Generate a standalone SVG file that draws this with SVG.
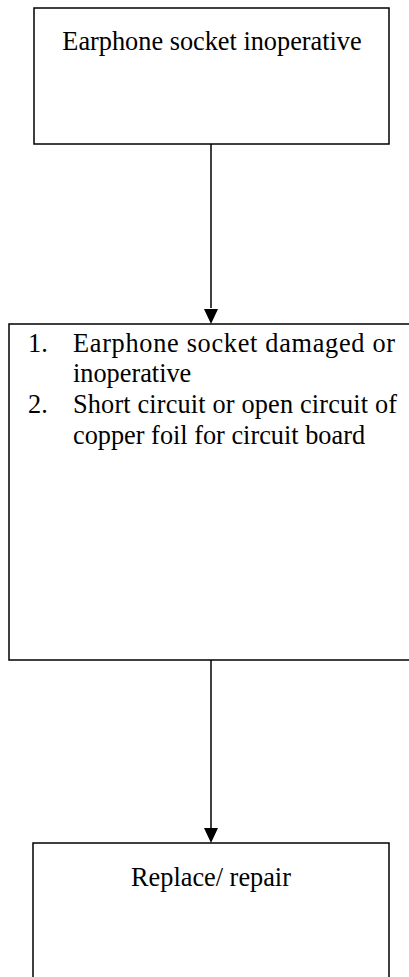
<svg xmlns="http://www.w3.org/2000/svg" width="409" height="977" viewBox="0 0 409 977">
<style>
.box{fill:#fff;stroke:#000;stroke-width:1.5}
.t{font-family:"Liberation Serif","Times New Roman",serif;font-size:26.3px;fill:#000}
.c{text-anchor:middle}
.ln{stroke:#000;stroke-width:1.5;fill:none}
</style>
<defs>
<marker id="ah" markerUnits="userSpaceOnUse" markerWidth="14" markerHeight="15" refX="7" refY="15" orient="auto-start-reverse" viewBox="0 0 14 15">
<path d="M0,0 L14,0 L7,15 Z" fill="#000"/>
</marker>
</defs>
<rect width="409" height="977" fill="#fff"/>
<g id="connectors">
<line class="ln" x1="211" y1="144" x2="211" y2="308" />
<path d="M204,309 L218,309 L211,324 Z" fill="#000"/>
<line class="ln" x1="211" y1="660" x2="211" y2="828" />
<path d="M204,828 L218,828 L211,843 Z" fill="#000"/>
</g>
<g id="node1">
<rect class="box" x="34" y="8" width="355" height="136"/>
<text class="t c" x="212" y="50">Earphone socket inoperative</text>
</g>
<g id="node2">
<rect class="box" x="9" y="324" width="420" height="336"/>
<text class="t" x="28" y="352">1.</text>
<text class="t" x="73" y="352" textLength="322" lengthAdjust="spacing">Earphone socket damaged or</text>
<text class="t" x="73" y="382">inoperative</text>
<text class="t" x="28" y="413">2.</text>
<text class="t" x="73" y="413" textLength="324" lengthAdjust="spacing">Short circuit or open circuit of</text>
<text class="t" x="73" y="444">copper foil for circuit board</text>
</g>
<g id="node3">
<rect class="box" x="33" y="843" width="356" height="150"/>
<text class="t c" x="211" y="886">Replace/ repair</text>
</g>
</svg>
